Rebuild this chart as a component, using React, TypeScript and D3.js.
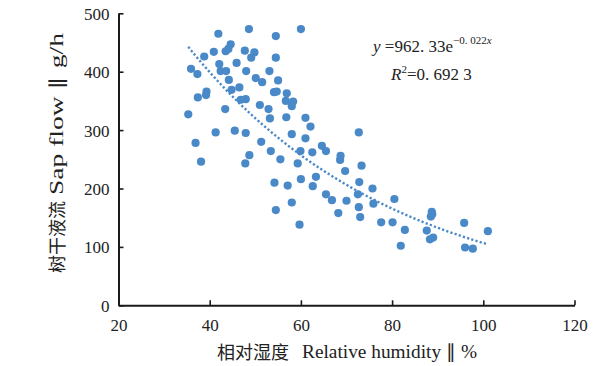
import React, { useEffect, useRef } from 'react';
import * as d3 from 'd3';

// Relative humidity (%) vs sap flow (g/h)
const humidity = [
  35.3, 35.9, 37.3, 38.8, 37.4, 39.2, 39.3, 36.9, 41.9, 40.9, 42.1, 42.4, 43.6, 43.5, 44.1,
  44.6, 44.2, 44.8, 43.4, 41.3, 45.9, 46.5, 45.5, 46.8, 47.9, 47.9, 48.6, 47.7, 49.1, 49.8,
  48.0, 50.1, 51.5, 51.0, 48.7, 51.3, 54.5, 54.5, 53.1, 55.0, 54.1, 54.7, 56.9, 56.7, 58.0,
  58.3, 52.9, 53.2, 56.8, 60.0, 61.0, 62.1, 58.0, 61.0, 53.4, 59.9, 62.5, 64.6, 65.5, 68.7,
  55.5, 38.1, 47.8, 59.3, 68.6, 69.7, 54.2, 57.1, 60.0, 63.3, 62.6, 54.5, 58.0, 59.7, 65.5,
  66.8, 70.0, 68.2, 73.3, 72.8, 75.7, 72.5, 75.9, 80.5, 72.7, 73.0, 77.6, 80.1, 82.8, 81.9,
  88.7, 88.8, 88.5, 87.6, 88.3, 89.0, 95.8, 101.0, 96.0, 97.7, 72.7
];
const sapFlow = [
  327, 405, 396, 426, 356, 360, 366, 278, 465, 434, 413, 401, 401, 435, 439,
  447, 386, 369, 336, 296, 415, 373, 299, 352, 353, 295, 473, 436, 424, 433,
  401, 389, 382, 343, 257, 280, 461, 424, 401, 385, 365, 366, 363, 350, 341,
  349, 336, 320, 322, 473, 321, 306, 293, 286, 264, 264, 262, 273, 264, 256,
  250, 246, 243, 243, 249, 230, 210, 205, 216, 220, 204, 163, 176, 138, 190,
  180, 179, 158, 239, 211, 200, 190, 174, 182, 168, 151, 142, 142, 129, 102,
  160, 156, 152, 128, 113, 116, 141, 127, 99, 97, 296
];

const xTicks = [20, 40, 60, 80, 100, 120];
const yTicks = [0, 100, 200, 300, 400, 500];

// fitted curve from the chart: y = 962.33 e^(-0.022x), drawn over the data range
const fitA = 962.33;
const fitB = -0.022;
const fitRange = [35.3, 101];

export default function App() {
  const svgRef = useRef<SVGSVGElement>(null);

  useEffect(() => {
    if (!svgRef.current) return;
    d3.select(svgRef.current).selectAll("*").remove();

    const width = 608;
    const height = 366;
    const left = 118.5, right = 574.5, top = 13.3, bottom = 305.3;

    const svg = d3.select(svgRef.current)
      .attr("width", width)
      .attr("height", height);

    svg.append("rect").attr("width", width).attr("height", height).attr("fill", "#fff");

    const x = d3.scaleLinear().domain([20, 120]).range([left, right]);
    const y = d3.scaleLinear().domain([0, 500]).range([bottom, top]);

    const serif = "'Liberation Serif', 'Times New Roman', serif";

    // points
    const dotColor = "#4a89c8";
    svg.append("g")
      .selectAll("circle")
      .data(humidity.map((h, i) => [h, sapFlow[i]]))
      .enter()
      .append("circle")
      .attr("cx", d => x(d[0]))
      .attr("cy", d => y(d[1]))
      .attr("r", 4.1)
      .attr("fill", dotColor);

    // trend line
    const fitX = d3.range(fitRange[0], fitRange[1] + 0.01, 0.5);
    const line = d3.line<number>()
      .x(d => x(d))
      .y(d => y(fitA * Math.exp(fitB * d)));
    svg.append("path")
      .datum(fitX)
      .attr("fill", "none")
      .attr("stroke", dotColor)
      .attr("stroke-width", 2.4)
      .attr("stroke-dasharray", "2.2 2.2")
      .attr("d", line);

    // axes
    const axisColor = "#1a1a1a";
    const xAxis = svg.append("g")
      .attr("transform", `translate(0,${bottom})`)
      .call(d3.axisBottom(x).tickValues(xTicks).tickSizeInner(-5).tickSizeOuter(0).tickPadding(10));
    const yAxis = svg.append("g")
      .attr("transform", `translate(${left},0)`)
      .call(d3.axisLeft(y).tickValues(yTicks).tickSizeInner(-5).tickSizeOuter(0).tickPadding(9));

    [xAxis, yAxis].forEach(g => {
      g.select(".domain").attr("stroke", axisColor).attr("stroke-width", 2);
      g.selectAll(".tick line").attr("stroke", axisColor).attr("stroke-width", 1.6);
      g.selectAll(".tick text")
        .attr("fill", "#222")
        .style("font-family", serif)
        .style("font-size", "17px");
    });
    xAxis.selectAll(".tick text").attr("dy", "0.9em");
    yAxis.selectAll(".tick text").attr("dy", "0.35em");

    // axis titles
    const cjk = "'Noto Sans CJK SC', sans-serif";

    svg.append("text")
      .attr("x", 217).attr("y", 359)
      .style("font-family", cjk).style("font-size", "18px").attr("fill", "#222")
      .text("相对湿度");
    svg.append("text")
      .attr("x", 302).attr("y", 358)
      .attr("textLength", 175).attr("lengthAdjust", "spacingAndGlyphs")
      .style("font-family", serif).style("font-size", "19px").attr("fill", "#222")
      .text("Relative humidity ∥ %");

    const yl = svg.append("g").attr("transform", "translate(64,0) rotate(-90)");
    yl.append("text")
      .attr("x", -273).attr("y", 0)
      .style("font-family", cjk).style("font-size", "18px").attr("fill", "#222")
      .text("树干液流");
    yl.append("text")
      .attr("x", -195).attr("y", -1)
      .attr("textLength", 162).attr("lengthAdjust", "spacingAndGlyphs")
      .style("font-family", serif).style("font-size", "19px").attr("fill", "#222")
      .text("Sap flow ∥ g/h");

    // equation
    const eq = svg.append("text")
      .attr("x", 373).attr("y", 52)
      .style("font-family", serif).style("font-size", "17px").attr("fill", "#222");
    eq.append("tspan").style("font-style", "italic").text("y");
    eq.append("tspan").text(" =962. 33e");
    eq.append("tspan").attr("dy", -8).style("font-size", "11px").text("−0. 022");
    eq.append("tspan").style("font-size", "11px").style("font-style", "italic").text("x");

    const r2 = svg.append("text")
      .attr("x", 391).attr("y", 80)
      .style("font-family", serif).style("font-size", "17px").attr("fill", "#222");
    r2.append("tspan").style("font-style", "italic").text("R");
    r2.append("tspan").attr("dy", -7).style("font-size", "11px").text("2");
    r2.append("tspan").attr("dy", 7).text("=0. 692  3");
  }, []);

  return (
    <div style={{ position: "absolute", left: 0, top: 0 }}>
      <svg ref={svgRef} style={{ display: "block" }}></svg>
    </div>
  );
}
